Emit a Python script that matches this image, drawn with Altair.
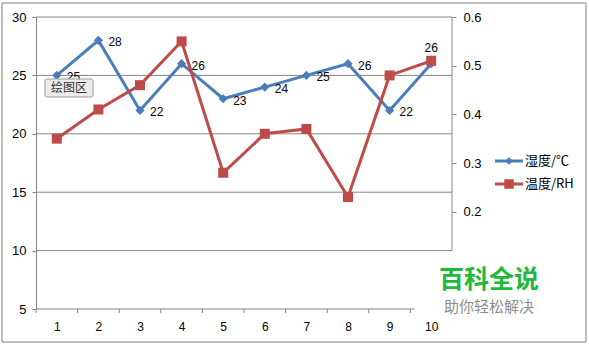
import altair as alt
import pandas as pd

# ---- data ----
categories = [1, 2, 3, 4, 5, 6, 7, 8, 9, 10]
humidity_c = [25, 28, 22, 26, 23, 24, 25, 26, 22, 26]          # 湿度/℃ (left axis)
temp_rh = [0.35, 0.41, 0.46, 0.55, 0.28, 0.36, 0.37, 0.23, 0.48, 0.51]  # 温度/RH (right axis)
left_ticks = [5, 10, 15, 20, 25, 30]
grid_values = [10, 15, 20, 25, 30]
right_ticks = [0.2, 0.3, 0.4, 0.5, 0.6]
series_names = ["湿度/℃", "温度/RH"]

BLUE = "#4A7EBB"
RED = "#BE4B48"
GREY = "#868686"
FONT = "Liberation Sans"
CJK = "Noto Sans CJK SC"

W, H = 416, 292

df = pd.DataFrame({"x": categories, "h": humidity_c, "t": temp_rh})
bounds = pd.DataFrame({"x": [c - 0.5 for c in categories]})
grid_df = pd.DataFrame({"h": grid_values})
one = pd.DataFrame({"a": [0]})

xscale = alt.Scale(domain=[0.5, 10.5], nice=False, zero=False)
x_enc = alt.X("x:Q", scale=xscale,
              axis=alt.Axis(values=categories, title=None, domain=False, ticks=False,
                            grid=False, labelPadding=12, labelFontSize=12,
                            labelColor="#000", labelFont=FONT, format="d"))

yl_scale = alt.Scale(domain=[5, 30], nice=False, zero=False)
y_left = alt.Y("h:Q", scale=yl_scale,
               axis=alt.Axis(values=left_ticks, title=None, grid=False, orient="left",
                             domainColor=GREY, tickColor=GREY, tickSize=4,
                             labelPadding=6, labelFontSize=13, labelColor="#000",
                             labelFont=FONT, format="d"))

yr_scale = alt.Scale(domain=[0, 0.6], nice=False, zero=False)
y_right = alt.Y("t:Q", scale=yr_scale,
                axis=alt.Axis(values=right_ticks, title=None, grid=False, orient="right",
                              domain=False, tickColor=GREY, tickSize=4,
                              labelPadding=7, labelFontSize=13, labelColor="#000",
                              labelFont=FONT, format=".1f"))

# ---- left group (blue series + frame) ----
gridlines = alt.Chart(grid_df).mark_rule(color=GREY, strokeWidth=1).encode(
    y=y_left, x=alt.value(0), x2=alt.value(W))

right_line = alt.Chart(one).mark_rule(color=GREY, strokeWidth=1).encode(
    x=alt.value(W), y=alt.datum(30), y2=alt.datum(10))

bottom_line = alt.Chart(one).mark_rule(color=GREY, strokeWidth=1).encode(
    x=alt.datum(0.5), x2=alt.datum(9.6), y=alt.datum(5))

xticks = alt.Chart(bounds).mark_rule(color=GREY, strokeWidth=1).encode(
    x=x_enc, y=alt.value(H), y2=alt.value(H + 4))

blue_line = alt.Chart(df).mark_line(color=BLUE, strokeWidth=3).encode(x=x_enc, y=y_left)
blue_pts = alt.Chart(df).mark_point(shape="diamond", filled=True, size=85,
                                    color=BLUE, opacity=1).encode(x=x_enc, y=y_left)
blue_lbl = alt.Chart(df).transform_filter("datum.x < 10").mark_text(
    align="left", baseline="middle", dx=10, dy=2, fontSize=12, font=FONT, color="#000"
).encode(x=x_enc, y=y_left, text=alt.Text("h:Q", format="d"))
blue_lbl_last = alt.Chart(df).transform_filter("datum.x == 10").mark_text(
    align="center", baseline="middle", dy=-16, fontSize=12, font=FONT, color="#000"
).encode(x=x_enc, y=y_left, text=alt.Text("h:Q", format="d"))

left_group = alt.layer(gridlines, right_line, bottom_line, xticks,
                       blue_line, blue_pts, blue_lbl, blue_lbl_last)

# ---- right group (red series) ----
red_line = alt.Chart(df).mark_line(color=RED, strokeWidth=3).encode(x=x_enc, y=y_right)
red_pts = alt.Chart(df).mark_square(size=100, color=RED, opacity=1).encode(x=x_enc, y=y_right)
right_group = alt.layer(red_line, red_pts)

# ---- decorations: legend, tooltip box, watermark, outer border ----
border = alt.Chart(one).mark_rect(fillOpacity=0, stroke="#7f7f7f", strokeWidth=1).encode(
    x=alt.value(-34), x2=alt.value(550), y=alt.value(-14), y2=alt.value(325))

leg_blue_line = alt.Chart(one).mark_rule(color=BLUE, strokeWidth=3).encode(
    x=alt.value(459), x2=alt.value(487), y=alt.value(144))
leg_blue_pt = alt.Chart(one).mark_point(shape="diamond", filled=True, size=60,
                                        color=BLUE, opacity=1).encode(
    x=alt.value(473), y=alt.value(144))
leg_blue_txt = alt.Chart(one).mark_text(align="left", baseline="middle", fontSize=13,
                                        font=CJK, color="#000", text=series_names[0]).encode(
    x=alt.value(489), y=alt.value(144))
leg_red_line = alt.Chart(one).mark_rule(color=RED, strokeWidth=3).encode(
    x=alt.value(459), x2=alt.value(487), y=alt.value(167))
leg_red_pt = alt.Chart(one).mark_square(size=90, color=RED, opacity=1).encode(
    x=alt.value(473), y=alt.value(167))
leg_red_txt = alt.Chart(one).mark_text(align="left", baseline="middle", fontSize=13,
                                       font=CJK, color="#000", text=series_names[1]).encode(
    x=alt.value(489), y=alt.value(167))

tip_box = alt.Chart(one).mark_rect(fill="#ECECEC", stroke="#9A9A9A", strokeWidth=1,
                                   cornerRadius=2).encode(
    x=alt.value(9), x2=alt.value(57), y=alt.value(62), y2=alt.value(80))
tip_txt = alt.Chart(one).mark_text(align="center", baseline="middle", fontSize=12,
                                   font=CJK, color="#333", text="绘图区").encode(
    x=alt.value(33), y=alt.value(71))

wm1 = alt.Chart(one).mark_text(align="center", baseline="middle", fontSize=25,
                               fontWeight="bold", font=CJK, color="#22B83C",
                               text="百科全说").encode(x=alt.value(453), y=alt.value(263))
wm2 = alt.Chart(one).mark_text(align="center", baseline="middle", fontSize=15,
                               font=CJK, color="#8C8C8C",
                               text="助你轻松解决").encode(x=alt.value(453), y=alt.value(290))

deco = alt.layer(border, leg_blue_line, leg_blue_pt, leg_blue_txt,
                 leg_red_line, leg_red_pt, leg_red_txt, tip_box, tip_txt, wm1, wm2)

chart = alt.layer(left_group, right_group, deco).resolve_scale(y="independent").properties(
    width=W, height=H,
    padding={"left": 36, "top": 17, "right": 137, "bottom": 39},
    autosize=alt.AutoSizeParams(type="none"),
    background="white",
).configure_view(stroke=None)

chart.save("out.html", embed_options={"renderer": "svg", "actions": False})
